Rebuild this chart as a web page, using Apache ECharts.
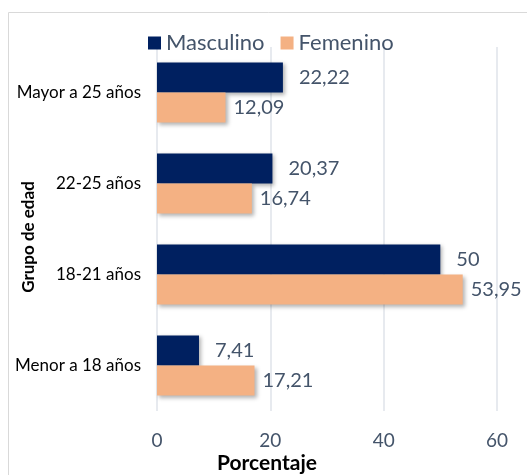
<!DOCTYPE html>
<html><head><meta charset="utf-8">
<script src="https://cdn.jsdelivr.net/npm/echarts@6/dist/echarts.min.js"></script>
<style>html,body{margin:0;padding:0;background:#fff}#c{width:527px;height:475px}</style>
</head><body><div id="c"></div>
<script>
const categories = ['Mayor a 25 años', '22-25 años', '18-21 años', 'Menor a 18 años'];
const masculino = [22.22, 20.37, 50, 7.41];
const femenino = [12.09, 16.74, 53.95, 17.21];
const xTicks = [0, 20, 40, 60];

const FONT = 'Lato, "Open Sans", sans-serif';
const fmt = p => String(p.value).replace('.', ',');
const chart = echarts.init(document.getElementById('c'));
const shadow = {shadowBlur: 4, shadowOffsetX: 2, shadowOffsetY: 2, shadowColor: 'rgba(0,0,0,0.3)'};
chart.setOption({
  animation: false,
  textStyle: {fontFamily: FONT},
  graphic: [
    {type: 'rect', shape: {x: 8.5, y: 12.5, width: 600, height: 500}, style: {fill: 'none', stroke: '#d9d9d9', lineWidth: 1}, z: -1},
    {type: 'text', left: 217, top: 453, style: {text: 'Porcentaje', font: 'bold 21px ' + FONT, fill: '#000'}},
    {type: 'text', x: 29, y: 237, rotation: Math.PI / 2, style: {text: 'Grupo de edad', font: 'bold 17px ' + FONT, fill: '#000', align: 'center', verticalAlign: 'middle'}}
  ],
  legend: {
    top: 27, left: 143, itemWidth: 13, itemHeight: 13, itemGap: 16,
    icon: 'rect',
    textStyle: {fontSize: 22, color: '#44546a', fontFamily: FONT}
  },
  grid: {left: 157, right: 30, top: 47, bottom: 64},
  xAxis: {
    type: 'value', min: 0, max: 60, interval: 20,
    axisLine: {show: false}, axisTick: {show: false},
    axisLabel: {fontSize: 19, color: '#44546a', margin: 20, fontFamily: FONT},
    splitLine: {lineStyle: {color: '#dfe3ea', width: 1.5}}
  },
  yAxis: {
    type: 'category', data: categories, inverse: true,
    axisLine: {show: false}, axisTick: {show: false},
    axisLabel: {fontSize: 17, color: '#000', margin: 16, fontFamily: FONT}
  },
  series: [
    {name: 'Masculino', type: 'bar', data: masculino, barCategoryGap: '34%', barGap: '0%',
     itemStyle: Object.assign({color: '#002060'}, shadow),
     label: {show: true, position: 'right', distance: 16, fontSize: 20, color: '#44546a', formatter: fmt, fontFamily: FONT}},
    {name: 'Femenino', type: 'bar', data: femenino, barCategoryGap: '34%', barGap: '0%',
     itemStyle: Object.assign({color: '#f4b183'}, shadow),
     label: {show: true, position: 'right', distance: 8, fontSize: 20, color: '#44546a', formatter: fmt, fontFamily: FONT}}
  ]
});
</script></body></html>
